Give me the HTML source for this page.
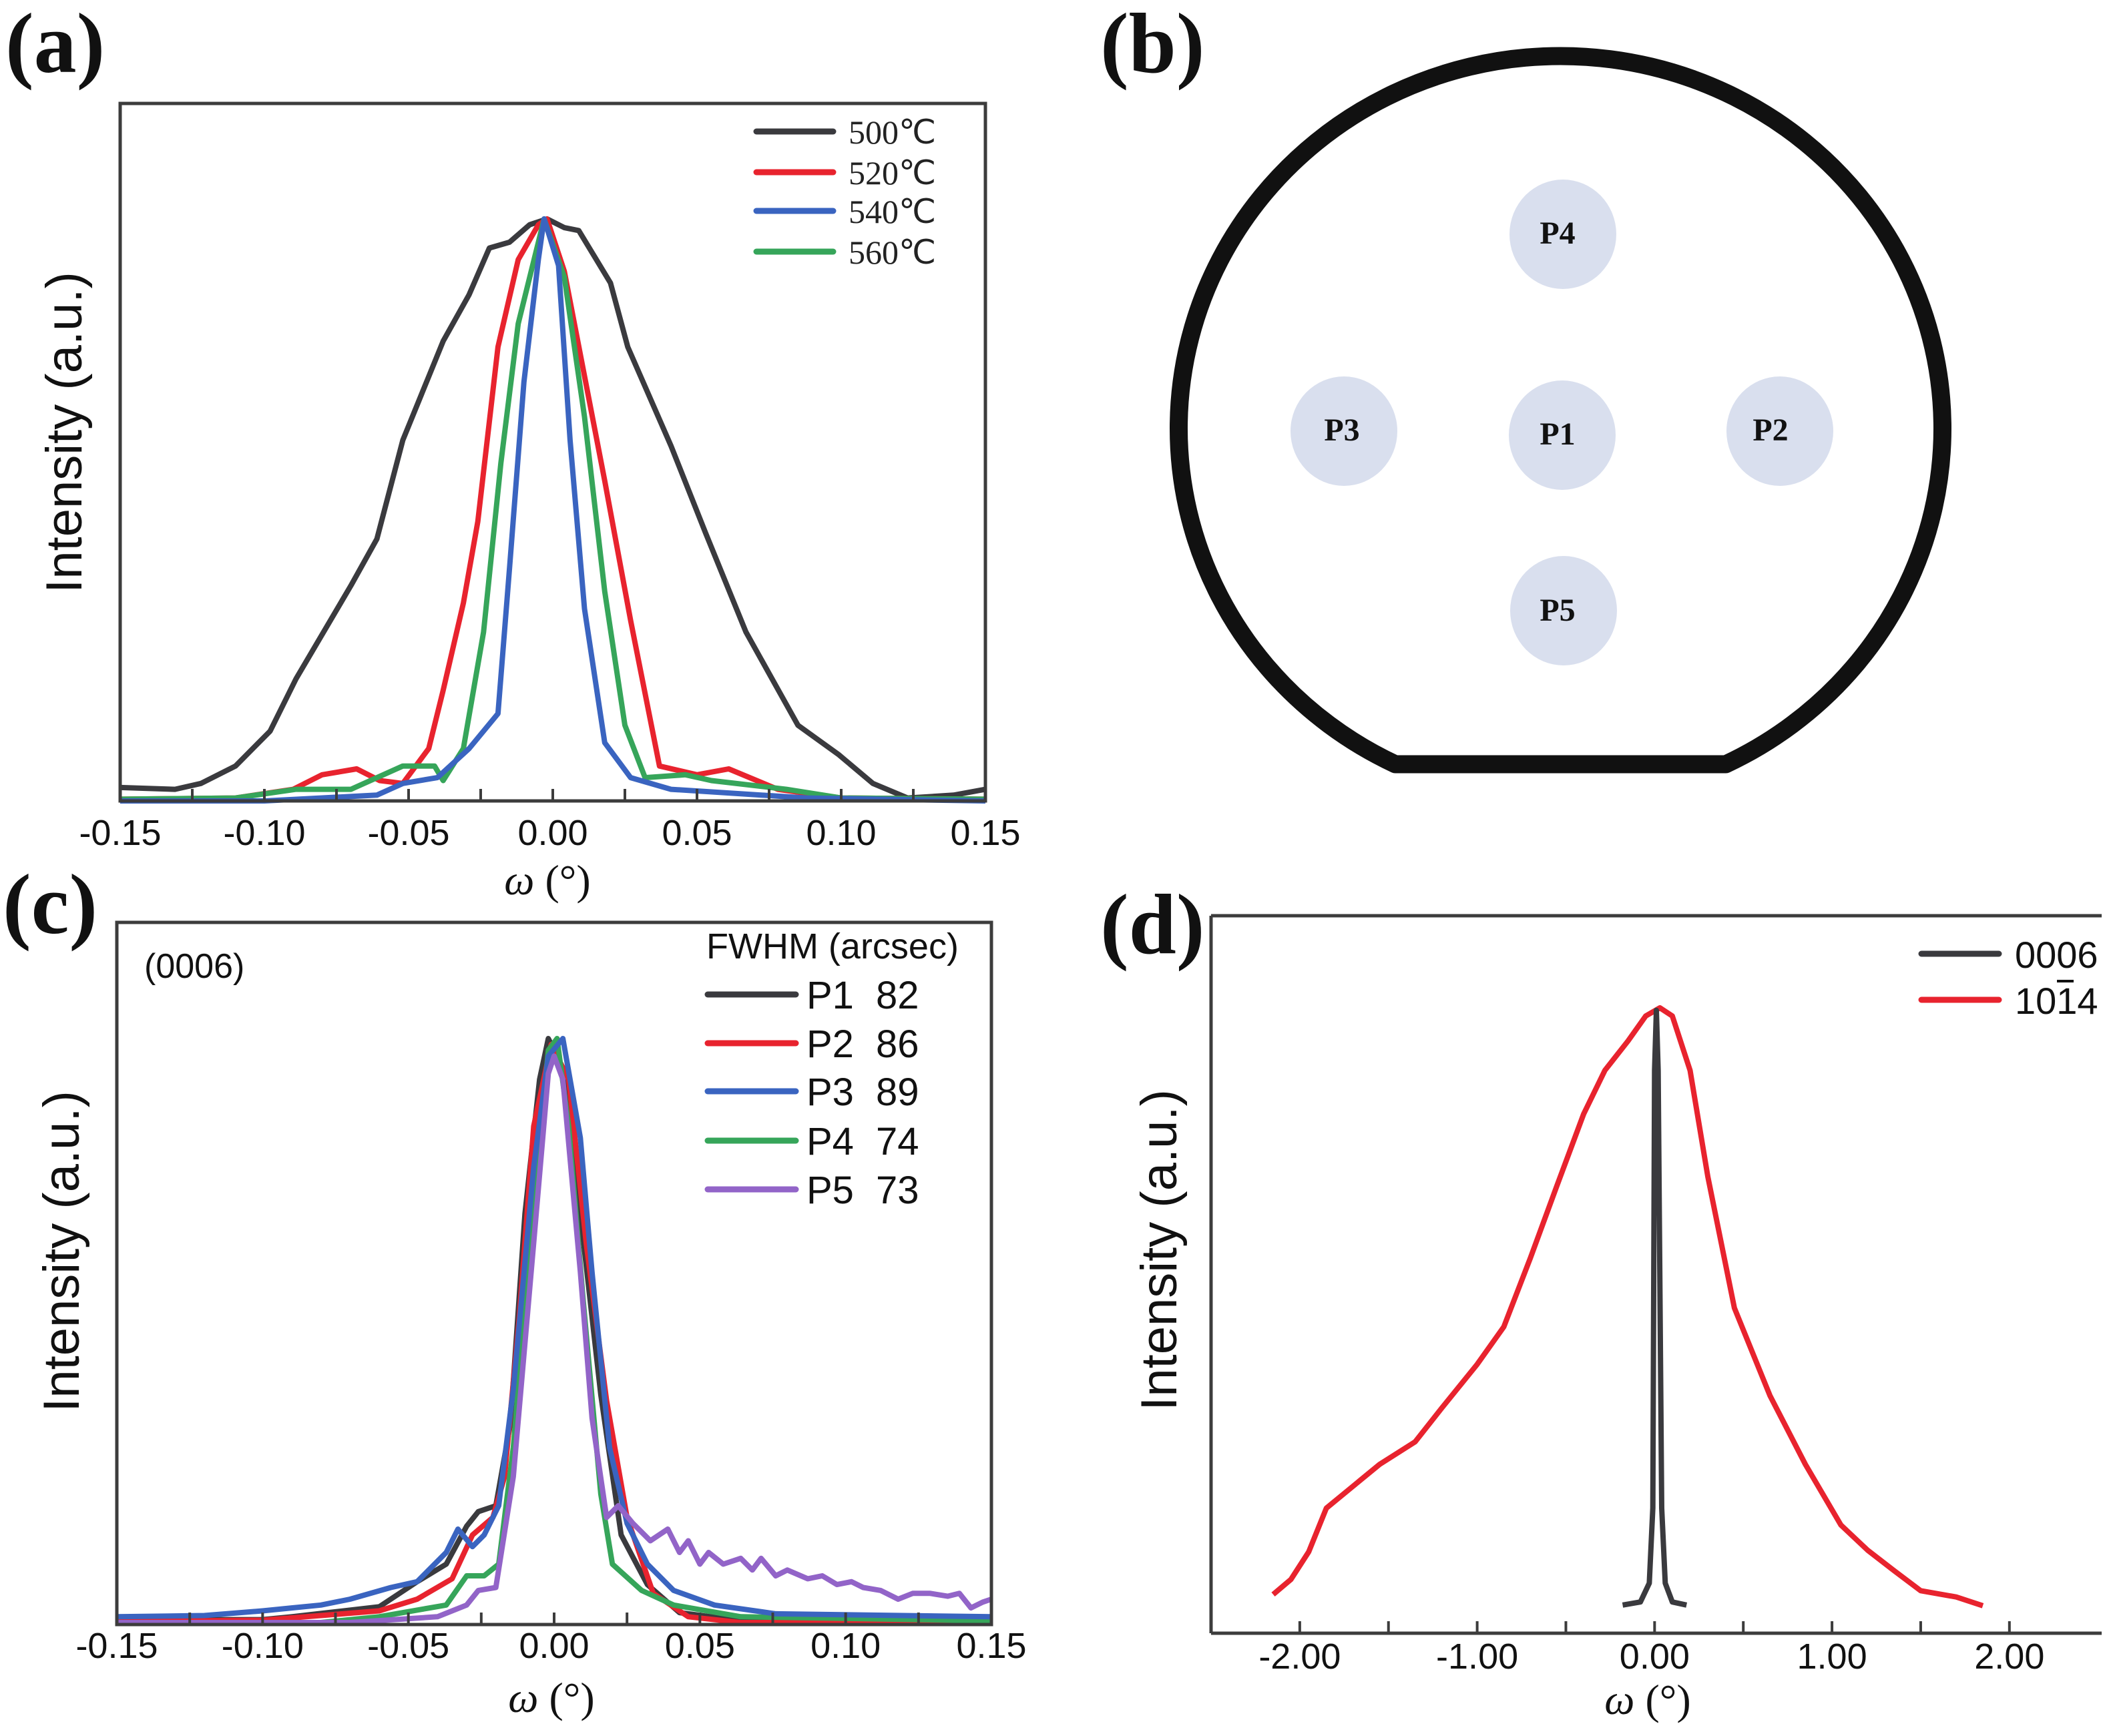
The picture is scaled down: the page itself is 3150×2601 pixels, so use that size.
<!DOCTYPE html>
<html><head><meta charset="utf-8"><style>
html,body{margin:0;padding:0;background:#fff;}
svg{display:block;}
.tk{font-family:"Liberation Sans",sans-serif;fill:#111;}
.ser{font-family:"Liberation Serif",serif;}
</style></head><body>
<svg id="fig" width="3150" height="2601" viewBox="0 0 3150 2601" xmlns="http://www.w3.org/2000/svg">
<rect width="3150" height="2601" fill="#fff"/>
<text x="8" y="108" class="ser" font-size="128" font-weight="bold" fill="#111">(a)</text>
<text x="1648" y="108" class="ser" font-size="128" font-weight="bold" fill="#111">(b)</text>
<text x="4" y="1398" class="ser" font-size="128" font-weight="bold" fill="#111">(c)</text>
<text x="1648" y="1428" class="ser" font-size="128" font-weight="bold" fill="#111">(d)</text>

<g>
<path d="M2090,1145 A572,558 0 1 1 2585,1145 Z" fill="none" stroke="#111" stroke-width="27" stroke-linejoin="round"/>
<g fill="#d9dfee">
<ellipse cx="2341" cy="351" rx="80" ry="82"/>
<ellipse cx="2013" cy="646" rx="80" ry="82"/>
<ellipse cx="2340" cy="652" rx="80" ry="82"/>
<ellipse cx="2666" cy="646" rx="80" ry="82"/>
<ellipse cx="2342" cy="915" rx="80" ry="82"/>
</g>
<g class="ser" font-size="48" font-weight="bold" fill="#111" text-anchor="middle">
<text x="2333" y="365">P4</text>
<text x="2010" y="660">P3</text>
<text x="2333" y="666">P1</text>
<text x="2652" y="660">P2</text>
<text x="2333" y="930">P5</text>
</g>
</g>
<g id="chartA"></g>
<g id="chartC"></g>
<g id="chartD"></g>
</svg>
<script>
const aX500 = [-0.15,-0.131,-0.122,-0.110,-0.098,-0.089,-0.070,-0.061,-0.052,-0.038,-0.029,-0.022,-0.015,-0.008,-0.002,0.004,0.009,0.020,0.026,0.041,0.053,0.067,0.085,0.099,0.111,0.123,0.139,0.15];
const aY500 = [0.023,0.02,0.03,0.06,0.12,0.21,0.37,0.45,0.62,0.79,0.87,0.95,0.96,0.99,1.0,0.985,0.98,0.89,0.78,0.61,0.46,0.29,0.13,0.08,0.03,0.005,0.01,0.02];
const aX520 = [-0.15,-0.11,-0.09,-0.08,-0.068,-0.060,-0.052,-0.043,-0.038,-0.031,-0.026,-0.019,-0.012,-0.005,-0.002,0.004,0.011,0.018,0.027,0.037,0.050,0.061,0.078,0.100,0.15];
const aY520 = [0.003,0.005,0.02,0.045,0.055,0.035,0.03,0.09,0.19,0.34,0.48,0.78,0.93,0.99,1.0,0.91,0.73,0.55,0.31,0.06,0.045,0.055,0.02,0.005,0.003];
const aX540 = [-0.15,-0.10,-0.061,-0.052,-0.040,-0.029,-0.019,-0.015,-0.010,-0.005,-0.003,0.002,0.006,0.011,0.018,0.027,0.041,0.088,0.15];
const aY540 = [0.0,0.0,0.01,0.03,0.04,0.09,0.15,0.40,0.72,0.93,1.0,0.92,0.62,0.33,0.10,0.04,0.02,0.005,0.0];
const aX560 = [-0.15,-0.11,-0.089,-0.070,-0.052,-0.041,-0.038,-0.031,-0.024,-0.018,-0.012,-0.005,-0.003,0.004,0.011,0.018,0.025,0.032,0.046,0.055,0.081,0.100,0.15];
const aY560 = [0.003,0.005,0.02,0.02,0.06,0.06,0.035,0.09,0.29,0.58,0.82,0.96,1.0,0.90,0.66,0.36,0.13,0.04,0.045,0.035,0.02,0.005,0.003];
const aLabels = ["500℃","520℃","540℃","560℃"];
const aTicks = [-0.15,-0.10,-0.05,0.00,0.05,0.10,0.15];
const aTickLabels = ["-0.15","-0.10","-0.05","0.00","0.05","0.10","0.15"];

const cX1 = [-0.15,-0.10,-0.09,-0.06,-0.047,-0.037,-0.030,-0.026,-0.020,-0.015,-0.010,-0.005,-0.002,0.003,0.009,0.016,0.023,0.032,0.043,0.064,0.15];
const cY1 = [0.005,0.005,0.01,0.027,0.07,0.10,0.165,0.19,0.20,0.34,0.70,0.93,1.0,0.95,0.70,0.39,0.15,0.065,0.017,0.003,0.002];
const cX2 = [-0.15,-0.10,-0.06,-0.047,-0.035,-0.028,-0.021,-0.017,-0.012,-0.007,-0.001,0.005,0.011,0.018,0.025,0.034,0.046,0.064,0.15];
const cY2 = [0.002,0.004,0.02,0.04,0.075,0.15,0.18,0.25,0.52,0.85,0.99,0.93,0.65,0.38,0.18,0.05,0.01,0.0,0.0];
const cX3 = [-0.15,-0.12,-0.10,-0.09,-0.08,-0.07,-0.056,-0.047,-0.037,-0.033,-0.028,-0.024,-0.019,-0.014,-0.007,-0.002,0.003,0.009,0.013,0.019,0.025,0.032,0.041,0.055,0.076,0.15];
const cY3 = [0.01,0.012,0.02,0.025,0.03,0.04,0.06,0.07,0.12,0.16,0.13,0.15,0.20,0.40,0.78,0.97,1.0,0.83,0.60,0.30,0.17,0.10,0.055,0.03,0.015,0.01];
const cX4 = [-0.15,-0.08,-0.06,-0.037,-0.030,-0.024,-0.019,-0.014,-0.007,-0.002,0.001,0.005,0.010,0.016,0.020,0.030,0.041,0.064,0.15];
const cY4 = [0.0,0.0,0.01,0.03,0.08,0.08,0.10,0.30,0.72,0.98,1.0,0.85,0.55,0.22,0.10,0.055,0.03,0.01,0.003];
const cX5 = [-0.15,-0.07,-0.04,-0.030,-0.026,-0.020,-0.014,-0.007,-0.002,0.000,0.003,0.009,0.013,0.018,0.022,0.027,0.033,0.039,0.043,0.046,0.050,0.053,0.058,0.064,0.068,0.071,0.076,0.080,0.087,0.092,0.097,0.102,0.106,0.112,0.118,0.123,0.129,0.135,0.139,0.143,0.147,0.15];
const cY5 = [0.0,0.0,0.01,0.03,0.055,0.06,0.25,0.65,0.94,0.97,0.93,0.60,0.35,0.18,0.20,0.17,0.14,0.16,0.12,0.14,0.10,0.12,0.10,0.11,0.09,0.11,0.08,0.09,0.075,0.08,0.065,0.07,0.06,0.055,0.04,0.05,0.05,0.045,0.05,0.025,0.035,0.04];
const cNames = ["P1","P2","P3","P4","P5"];
const cFwhm = ["82","86","89","74","73"];

const dXred = [-2.15,-2.05,-1.95,-1.85,-1.70,-1.55,-1.35,-1.20,-1.00,-0.85,-0.70,-0.55,-0.40,-0.28,-0.15,-0.05,0.03,0.10,0.20,0.30,0.45,0.65,0.85,1.05,1.20,1.35,1.50,1.70,1.85];
const dYred = [0.062,0.086,0.13,0.20,0.235,0.27,0.306,0.36,0.43,0.49,0.60,0.716,0.83,0.90,0.947,0.987,1.0,0.987,0.90,0.73,0.52,0.38,0.27,0.173,0.133,0.10,0.068,0.058,0.044];
const dXblk = [-0.18,-0.08,-0.03,-0.01,0.0,0.01,0.02,0.04,0.06,0.10,0.18];
const dYblk = [0.045,0.05,0.08,0.20,0.90,0.996,0.90,0.20,0.08,0.05,0.045];
const dTicks = [-2,-1,0,1,2];
const dTickLabels = ["-2.00","-1.00","0.00","1.00","2.00"];

const NS = "http://www.w3.org/2000/svg";
function mk(parent, tag, attrs, text){
  const e = document.createElementNS(NS, tag);
  if (attrs["class"]==="tk" && attrs["font-size"]===undefined) attrs["font-size"]=54;
  for (const k in attrs) e.setAttribute(k, String(attrs[k]).replace("px",""));
  if (text !== undefined) e.textContent = text;
  parent.appendChild(e);
  return e;
}
function lin(d0,d1,r0,r1){ return v => r0 + (v-d0)/(d1-d0)*(r1-r0); }
function pathD(xs, ys, sx, sy){
  return xs.map((x,i)=>(i?"L":"M")+sx(x).toFixed(1)+","+sy(ys[i]).toFixed(1)).join("");
}

(function(){
  const g = document.getElementById("chartA");
  const L=180,R=1476,T=155,B=1200;
  const sx = lin(-0.15,0.15,L,R);
  const sy = lin(0,1,1200,328);
  const series = [[aX500,aY500,"#3a3a3e"],[aX520,aY520,"#e8232e"],[aX540,aY540,"#3a64c0"],[aX560,aY560,"#36a55a"]];
  for (const i of [0,1,3,2]) {
    const s = series[i];
    const p = mk(g,"path",{d:pathD(s[0],s[1],sx,sy),fill:"none",stroke:s[2],"stroke-width":8,"stroke-linejoin":"round"});
    
    
  }
  const box = mk(g,"rect",{x:L,y:T,width:R-L,height:B-T,fill:"none",stroke:"#3c3c3c","stroke-width":5});
  
  
  for (let v=-0.125; v<0.15; v+=0.025){
    const t = mk(g,"line",{x1:sx(v),x2:sx(v),y1:B,y2:B-18,stroke:"#3c3c3c","stroke-width":4});
    
    
  }
  aTicks.forEach((v,i)=>{
    const t = mk(g,"text",{x:sx(v),y:1266,"text-anchor":"middle",class:"tk"},aTickLabels[i]);
    
    
  });
  const xt = mk(g,"text",{x:820,y:1340,"text-anchor":"middle",class:"ser","font-size":64,fill:"#111"});
  xt.innerHTML = '<tspan font-style="italic">ω</tspan> (°)';
  
  
  const yt = mk(g,"text",{x:0,y:0,transform:"translate(122,648) rotate(-90)","text-anchor":"middle",class:"tk","font-size":76},"Intensity (a.u.)");
  
  
  const ly=[197,258,316,377];
  series.forEach((s,i)=>{
    const l = mk(g,"line",{x1:1133,x2:1248,y1:ly[i],y2:ly[i],stroke:s[2],"stroke-width":9,"stroke-linecap":"round"});
    
    
    const t = mk(g,"text",{x:1271,y:ly[i]+18,class:"ser","font-size":50,fill:"#222"},aLabels[i]);
    
    
  });
})();

(function(){
  const g = document.getElementById("chartC");
  const L=175,R=1485,T=1382,B=2434;
  const sx = lin(-0.15,0.15,L,R);
  const sy = lin(0,1,2431,1556);
  const series = [[cX1,cY1,"#3a3a3e"],[cX2,cY2,"#e8232e"],[cX3,cY3,"#3a64c0"],[cX4,cY4,"#36a55a"],[cX5,cY5,"#9264c8"]];
  for (const i of [0,1,3,2,4]) {
    const s = series[i];
    const p = mk(g,"path",{d:pathD(s[0],s[1],sx,sy),fill:"none",stroke:s[2],"stroke-width":8,"stroke-linejoin":"round"});
    
    
  }
  const box = mk(g,"rect",{x:L,y:T,width:R-L,height:B-T,fill:"none",stroke:"#3c3c3c","stroke-width":5});
  
  
  for (let v=-0.125; v<0.15; v+=0.025){
    const t = mk(g,"line",{x1:sx(v),x2:sx(v),y1:B,y2:B-18,stroke:"#3c3c3c","stroke-width":4});
    
    
  }
  aTicks.forEach((v,i)=>{
    const t = mk(g,"text",{x:sx(v),y:2484,"text-anchor":"middle",class:"tk"},aTickLabels[i]);
    
    
  });
  const xt = mk(g,"text",{x:826,y:2565,"text-anchor":"middle",class:"ser","font-size":64,fill:"#111"});
  xt.innerHTML = '<tspan font-style="italic">ω</tspan> (°)';
  
  
  const yt = mk(g,"text",{x:0,y:0,transform:"translate(118,1875) rotate(-90)","text-anchor":"middle",class:"tk","font-size":76},"Intensity (a.u.)");
  
  
  const an = mk(g,"text",{x:216,y:1465,class:"tk","font-size":52},"(0006)");
  
  
  const hd = mk(g,"text",{x:1058,y:1436,class:"tk","font-size":54},"FWHM (arcsec)");
  
  
  const ly=[1490,1563,1635,1709,1782];
  series.forEach((s,i)=>{
    const l = mk(g,"line",{x1:1060,x2:1192,y1:ly[i],y2:ly[i],stroke:s[2],"stroke-width":9,"stroke-linecap":"round"});
    
    
    const t = mk(g,"text",{x:1208,y:ly[i]+21,class:"tk","font-size":58},cNames[i]);
    
    
    const f = mk(g,"text",{x:1312,y:ly[i]+21,class:"tk","font-size":58},cFwhm[i]);
    
    
  });
})();

(function(){
  const g = document.getElementById("chartD");
  const L=1814,R=3148,T=1372,B=2447;
  const sx = lin(-2.5,2.52,L,R);
  const sy = lin(0,1,2447,1510);
  const p1 = mk(g,"path",{d:pathD(dXred,dYred,sx,sy),fill:"none",stroke:"#e8232e","stroke-width":8,"stroke-linejoin":"round"});
  
  
  const p2 = mk(g,"path",{d:pathD(dXblk,dYblk,sx,sy),fill:"none",stroke:"#3a3a3e","stroke-width":8,"stroke-linejoin":"round"});
  
  
  const ta = mk(g,"line",{x1:L,x2:R,y1:T,y2:T,stroke:"#3c3c3c","stroke-width":5});
  
  
  const ba = mk(g,"line",{x1:L,x2:R,y1:B,y2:B,stroke:"#3c3c3c","stroke-width":5});
  
  
  const la = mk(g,"line",{x1:L,x2:L,y1:T,y2:B,stroke:"#3c3c3c","stroke-width":5});
  
  
  for (let v=-2; v<=2.01; v+=0.5){
    const t = mk(g,"line",{x1:sx(v),x2:sx(v),y1:B,y2:B-18,stroke:"#3c3c3c","stroke-width":4});
    
    
  }
  dTicks.forEach((v,i)=>{
    const t = mk(g,"text",{x:sx(v),y:2500,"text-anchor":"middle",class:"tk"},dTickLabels[i]);
    
    
  });
  const xt = mk(g,"text",{x:2468,y:2568,"text-anchor":"middle",class:"ser","font-size":64,fill:"#111"});
  xt.innerHTML = '<tspan font-style="italic">ω</tspan> (°)';
  
  
  const yt = mk(g,"text",{x:0,y:0,transform:"translate(1762,1873) rotate(-90)","text-anchor":"middle",class:"tk","font-size":76},"Intensity (a.u.)");
  
  
  const lg = [["#3a3a3e",1429],["#e8232e",1498]];
  lg.forEach(e=>{
    const l = mk(g,"line",{x1:2878,x2:2994,y1:e[1],y2:e[1],stroke:e[0],"stroke-width":9,"stroke-linecap":"round"});
    
    
  });
  const t1 = mk(g,"text",{x:3018,y:1450,class:"tk","font-size":56},"0006");
  
  
  const t2 = mk(g,"text",{x:3018,y:1519,class:"tk","font-size":56},"1014");
  
  
  const ob = mk(g,"line",{x1:3081,x2:3106,y1:1470,y2:1470,stroke:"#111","stroke-width":4});
  
  
})();
</script>
</body></html>
